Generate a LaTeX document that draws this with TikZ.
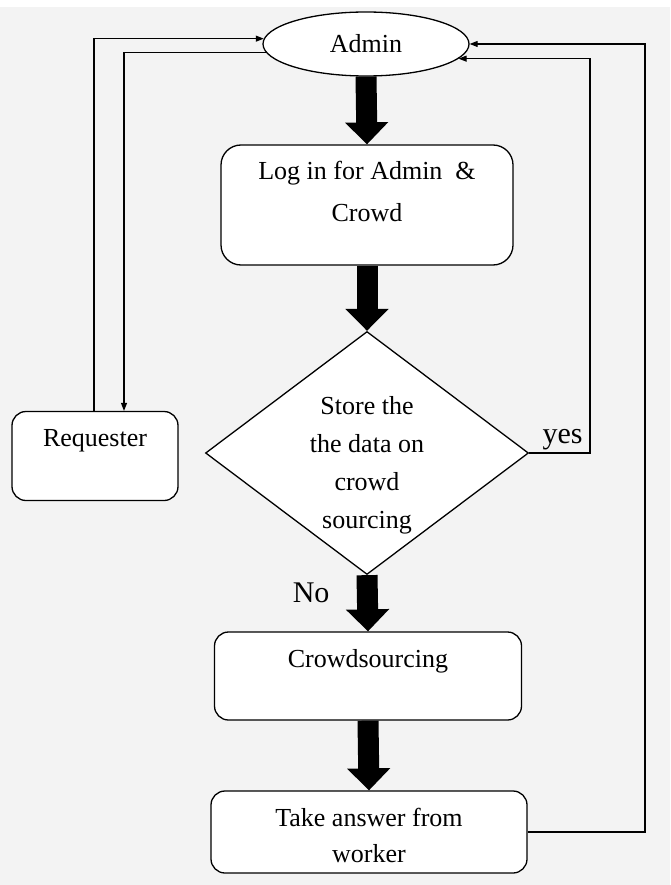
\documentclass[tikz,border=0pt]{standalone}
\usepackage{fontspec}
\setmainfont{Liberation Serif}
\usetikzlibrary{shapes,arrows.meta,positioning}
\usepackage{xcolor}
\definecolor{bggray}{RGB}{243,243,243}

\begin{document}
\begin{tikzpicture}[x=1pt, y=-1pt,
        box/.style={draw, line width=1.3pt, fill=white, rounded corners=14pt, align=center, inner sep=5pt},
        flow/.style={line width=21pt, -{Triangle[length=22pt, width=42pt]}},
        link/.style={line width=1.1pt, -{Triangle[length=8pt, width=6pt]}},
        font=\fontsize{26}{38}\selectfont]
        \useasboundingbox (0,0) rectangle (670,885);
        \fill[bggray] (0,7) rectangle (670,885);

        \node[draw, line width=1.3pt, fill=white, ellipse, minimum width=206pt, minimum height=64pt, inner sep=0pt] (admin) at (366,44) {Admin};
        \node[box, minimum width=292pt, text height=72pt, text depth=38pt, rounded corners=20pt, font=\fontsize{26}{42}\selectfont] (login) at (367,205) {Log in for Admin \ \&\\Crowd};
        \node[draw, line width=1.3pt, fill=white, diamond, aspect=1.33, minimum width=323pt, minimum height=243pt, inner sep=-6pt, align=center, text height=158pt, text depth=7pt] (store) at (367,453) {Store the\\the data on\\crowd\\sourcing};
        \node[box, minimum width=307pt, text height=30pt, text depth=48pt] (crowd) at (368,676) {Crowdsourcing};
        \node[box, minimum width=316pt, text height=66pt, text depth=6pt, font=\fontsize{26}{36}\selectfont] (take) at (369,832) {Take answer from\\worker};
        \node[box, minimum width=166pt, text height=30pt, text depth=49pt] (req) at (95,456) {Requester};

        \draw[flow] (admin.south) -- (login.north);
        \draw[flow] (login.south) -- (store.north);
        \draw[flow] (store.south) -- node[pos=0.32, left=24pt, font=\fontsize{30}{36}\selectfont] {No} (crowd.north);
        \draw[flow] (crowd.south) -- (take.north);

        \coordinate (lo) at (94,0);
        \coordinate (li) at (124,0);
        \coordinate (ry) at (590,0);
        \coordinate (rx) at (645,0);

        \draw[link] (lo |- req.north) |- (admin.177);
        \draw[link] (admin.185) -| (li |- req.north);
        \draw[link] (store.east) -- node[above, pos=0.55, inner sep=2pt, font=\fontsize{30}{36}\selectfont] {yes} (ry |- store.east) -- (ry |- admin.-9) -- (admin.-9);
        \draw[link] (take.east) -| (rx |- admin.east) -- (admin.east);
    \end{tikzpicture}
\end{document}
